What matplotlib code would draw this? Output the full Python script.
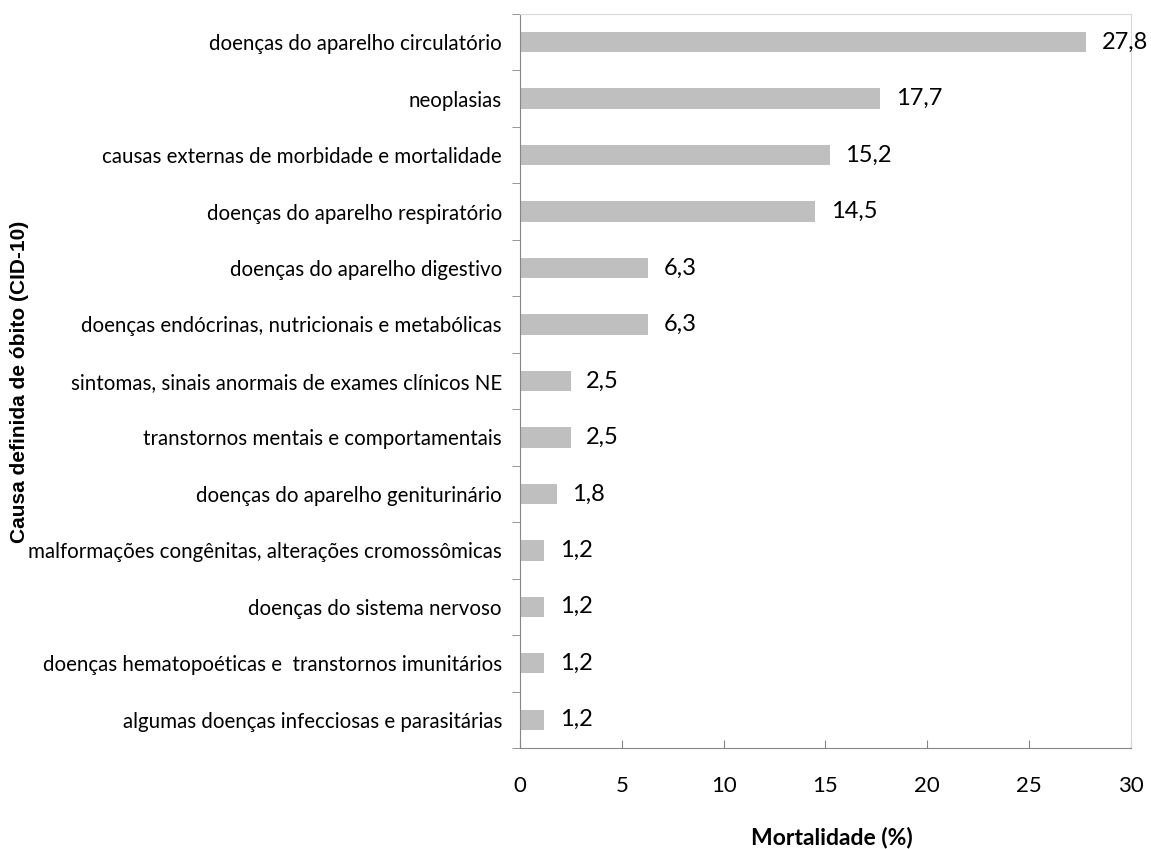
import numpy as np
import matplotlib

matplotlib.use('Agg')
import matplotlib.pyplot as plt
from matplotlib.ticker import FixedLocator

# Dados do gráfico (de cima para baixo)
causas = [
    'doenças do aparelho circulatório',
    'neoplasias',
    'causas externas de morbidade e mortalidade',
    'doenças do aparelho respiratório',
    'doenças do aparelho digestivo',
    'doenças endócrinas, nutricionais e metabólicas',
    'sintomas, sinais anormais de exames clínicos NE',
    'transtornos mentais e comportamentais',
    'doenças do aparelho geniturinário',
    'malformações congênitas, alterações cromossômicas',
    'doenças do sistema nervoso',
    'doenças hematopoéticas e  transtornos imunitários',
    'algumas doenças infecciosas e parasitárias',
]
mortalidade = [27.8, 17.7, 15.2, 14.5, 6.3, 6.3, 2.5, 2.5, 1.8, 1.2, 1.2, 1.2, 1.2]
x_ticks = [0, 5, 10, 15, 20, 25, 30]

plt.rcParams['font.family'] = ['Lato', 'DejaVu Sans']

fig = plt.figure(figsize=(11.51, 8.49), dpi=100)
ax = fig.add_axes([0.4518, 0.119, 0.5308, 0.8646])

pos = np.arange(len(causas))
ax.barh(pos, mortalidade, height=0.36, color='#BFBFBF')

# Rótulos de valores
for p, v in zip(pos, mortalidade):
    ax.text(v + 0.75, p, f'{v:.1f}'.replace('.', ','), va='center', ha='left',
            fontsize=17, color='black')

ax.set_xlim(0, 30)
ax.set_ylim(len(causas) - 0.5, -0.5)
ax.set_xticks(x_ticks)
ax.set_xticklabels([str(t) for t in x_ticks], fontsize=16)
ax.tick_params(axis='x', direction='in', length=6, color='#868686', pad=20)

ax.set_yticks(pos)
ax.set_yticklabels(causas, fontsize=14.8)
ax.yaxis.set_minor_locator(FixedLocator(np.arange(-0.5, len(causas), 1.0)))
ax.tick_params(axis='y', which='major', length=0, pad=13)
ax.tick_params(axis='y', which='minor', length=6, color='#868686', direction='out')

for side in ['left', 'bottom']:
    ax.spines[side].set_color('#868686')
for side in ['top', 'right']:
    ax.spines[side].set_color('#D9D9D9')

ax.set_xlabel('Mortalidade (%)', fontsize=16.5, fontweight='bold', va='center')
ax.xaxis.set_label_coords(0.511, -0.122)
fig.text(0.017, 0.55, 'Causa definida de óbito (CID-10)', rotation=90,
         ha='center', va='center', fontsize=15, fontweight='bold',
         family=['Liberation Sans', 'DejaVu Sans'])

fig.savefig('out.png', dpi=100)
